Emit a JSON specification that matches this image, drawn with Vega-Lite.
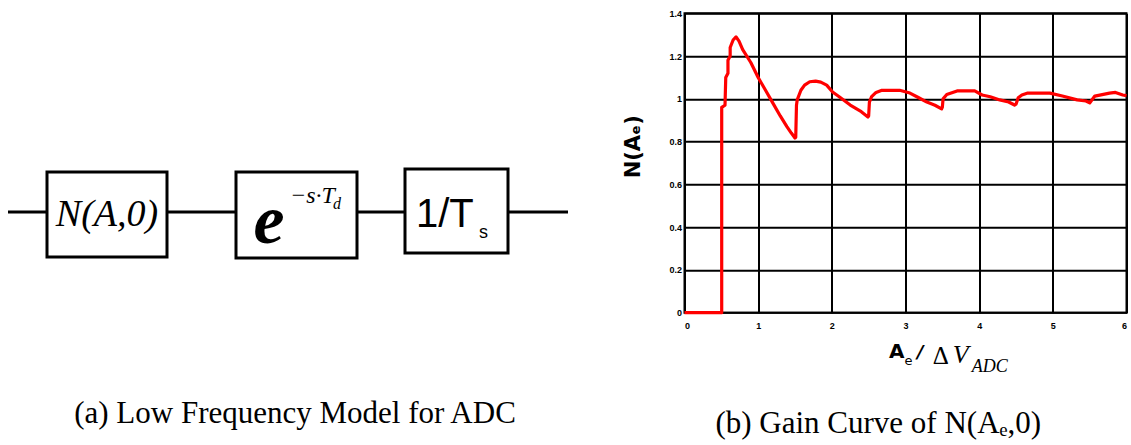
{
  "$schema": "https://vega.github.io/schema/vega-lite/v6.json",
  "width": 442,
  "height": 299.4,
  "autosize": {"type": "none"},
  "padding": {"left": 684.5, "top": 13.3, "right": 4.5, "bottom": 132.3},
  "background": "white",
  "config": {
    "view": {"stroke": "black", "strokeWidth": 2},
    "axis": {
      "grid": true,
      "gridColor": "black",
      "gridWidth": 2,
      "gridOpacity": 1,
      "domain": false,
      "ticks": false,
      "labelFont": "Liberation Sans",
      "labelFontWeight": "bold",
      "labelFontSize": 9,
      "labelColor": "black"
    }
  },
  "datasets": {
    "gain": [
      {"ratio": 0, "gain": 0},
      {"ratio": 0.505, "gain": 0},
      {"ratio": 0.505, "gain": 0.96},
      {"ratio": 0.55, "gain": 0.97},
      {"ratio": 0.56, "gain": 1.1},
      {"ratio": 0.59, "gain": 1.12},
      {"ratio": 0.59, "gain": 1.18},
      {"ratio": 0.62, "gain": 1.2},
      {"ratio": 0.62, "gain": 1.24},
      {"ratio": 0.66, "gain": 1.275},
      {"ratio": 0.7, "gain": 1.29},
      {"ratio": 0.74, "gain": 1.27},
      {"ratio": 0.79, "gain": 1.23},
      {"ratio": 0.9, "gain": 1.17},
      {"ratio": 1.0, "gain": 1.1},
      {"ratio": 1.1, "gain": 1.04},
      {"ratio": 1.2, "gain": 0.98},
      {"ratio": 1.3, "gain": 0.92},
      {"ratio": 1.39, "gain": 0.87},
      {"ratio": 1.45, "gain": 0.84},
      {"ratio": 1.5, "gain": 0.817},
      {"ratio": 1.51, "gain": 0.82},
      {"ratio": 1.52, "gain": 0.97},
      {"ratio": 1.53, "gain": 0.995},
      {"ratio": 1.58, "gain": 1.04},
      {"ratio": 1.63, "gain": 1.064},
      {"ratio": 1.7, "gain": 1.08},
      {"ratio": 1.78, "gain": 1.083},
      {"ratio": 1.85, "gain": 1.078},
      {"ratio": 1.93, "gain": 1.064},
      {"ratio": 2.01, "gain": 1.032},
      {"ratio": 2.1, "gain": 1.01},
      {"ratio": 2.25, "gain": 0.971},
      {"ratio": 2.4, "gain": 0.94},
      {"ratio": 2.49, "gain": 0.915},
      {"ratio": 2.5, "gain": 0.92},
      {"ratio": 2.51, "gain": 0.985},
      {"ratio": 2.54, "gain": 1.01},
      {"ratio": 2.6, "gain": 1.03},
      {"ratio": 2.68, "gain": 1.04},
      {"ratio": 2.92, "gain": 1.04},
      {"ratio": 3.06, "gain": 1.027},
      {"ratio": 3.18, "gain": 1.005},
      {"ratio": 3.29, "gain": 0.985},
      {"ratio": 3.4, "gain": 0.97},
      {"ratio": 3.49, "gain": 0.953},
      {"ratio": 3.5, "gain": 0.96},
      {"ratio": 3.51, "gain": 1.0},
      {"ratio": 3.56, "gain": 1.02},
      {"ratio": 3.7, "gain": 1.037},
      {"ratio": 3.94, "gain": 1.037},
      {"ratio": 4.04, "gain": 1.018},
      {"ratio": 4.15, "gain": 1.01},
      {"ratio": 4.28, "gain": 0.995},
      {"ratio": 4.4, "gain": 0.985},
      {"ratio": 4.48, "gain": 0.971},
      {"ratio": 4.5, "gain": 0.975},
      {"ratio": 4.53, "gain": 1.005},
      {"ratio": 4.58, "gain": 1.018},
      {"ratio": 4.66, "gain": 1.027},
      {"ratio": 4.96, "gain": 1.027},
      {"ratio": 5.13, "gain": 1.013},
      {"ratio": 5.33, "gain": 0.995},
      {"ratio": 5.45, "gain": 0.99},
      {"ratio": 5.5, "gain": 0.981},
      {"ratio": 5.52, "gain": 0.99},
      {"ratio": 5.57, "gain": 1.013},
      {"ratio": 5.77, "gain": 1.027},
      {"ratio": 5.85, "gain": 1.03},
      {"ratio": 5.95, "gain": 1.018},
      {"ratio": 6.0, "gain": 1.015}
    ],
    "blocks": [
      {"block": "N(A,0)", "x0": 4.7, "x1": 16.7, "y0": -4.5, "y1": 4.0},
      {"block": "delay", "x0": 23.6, "x1": 35.7, "y0": -4.6, "y1": 4.0},
      {"block": "hold", "x0": 40.5, "x1": 50.8, "y0": -4.1, "y1": 4.3}
    ],
    "wire": [{"x0": 0.8, "x1": 56.8, "y": 0}]
  },
  "layer": [
    {
      "layer": [
        {
          "data": {"name": "gain"},
          "mark": {"type": "line", "color": "#ff0000", "strokeWidth": 3.2, "strokeJoin": "round"},
          "encoding": {
            "x": {
              "field": "ratio", "type": "quantitative",
              "scale": {"domain": [0, 6], "nice": false, "zero": false},
              "axis": {"title": null, "values": [0, 1, 2, 3, 4, 5, 6], "format": "d", "labelPadding": 9}
            },
            "y": {
              "field": "gain", "type": "quantitative",
              "scale": {"domain": [0, 1.4], "nice": false, "zero": false},
              "axis": {
                "title": "N(Aₑ)",
                "values": [0, 0.2, 0.4, 0.6, 0.8, 1, 1.2, 1.4],
                "format": "~g",
                "labelPadding": 3,
                "titleFont": "DejaVu Sans",
                "titleFontWeight": "bold",
                "titleFontSize": 21,
                "titleColor": "black",
                "titlePadding": 25,
                "titleY": 133
              }
            },
            "order": {"value": null}
          }
        },
        {
          "data": {"values": [{"ratio": 2.88, "gain": -0.212, "t": "A"}]},
          "mark": {"type": "text", "font": "DejaVu Sans", "fontWeight": "bold", "fontSize": 20, "align": "center", "baseline": "alphabetic", "color": "black"},
          "encoding": {"x": {"field": "ratio", "type": "quantitative"}, "y": {"field": "gain", "type": "quantitative"}, "text": {"field": "t"}}
        },
        {
          "data": {"values": [{"ratio": 3.04, "gain": -0.245, "t": "e"}]},
          "mark": {"type": "text", "font": "DejaVu Sans", "fontSize": 13, "align": "center", "baseline": "alphabetic", "color": "black"},
          "encoding": {"x": {"field": "ratio", "type": "quantitative"}, "y": {"field": "gain", "type": "quantitative"}, "text": {"field": "t"}}
        },
        {
          "data": {"values": [{"ratio": 3.2, "gain": -0.212, "t": "/"}]},
          "mark": {"type": "text", "font": "DejaVu Sans", "fontWeight": "bold", "fontStyle": "italic", "fontSize": 18, "align": "center", "baseline": "alphabetic", "color": "black"},
          "encoding": {"x": {"field": "ratio", "type": "quantitative"}, "y": {"field": "gain", "type": "quantitative"}, "text": {"field": "t"}}
        },
        {
          "data": {"values": [{"ratio": 3.37, "gain": -0.24, "t": "Δ"}]},
          "mark": {"type": "text", "font": "Liberation Serif", "fontSize": 25, "align": "left", "baseline": "alphabetic", "color": "black"},
          "encoding": {"x": {"field": "ratio", "type": "quantitative"}, "y": {"field": "gain", "type": "quantitative"}, "text": {"field": "t"}}
        },
        {
          "data": {"values": [{"ratio": 3.64, "gain": -0.235, "t": "V"}]},
          "mark": {"type": "text", "font": "Liberation Serif", "fontStyle": "italic", "fontSize": 26, "align": "left", "baseline": "alphabetic", "color": "black"},
          "encoding": {"x": {"field": "ratio", "type": "quantitative"}, "y": {"field": "gain", "type": "quantitative"}, "text": {"field": "t"}}
        },
        {
          "data": {"values": [{"ratio": 3.9, "gain": -0.278, "t": "ADC"}]},
          "mark": {"type": "text", "font": "Liberation Serif", "fontStyle": "italic", "fontSize": 18, "align": "left", "baseline": "alphabetic", "color": "black"},
          "encoding": {"x": {"field": "ratio", "type": "quantitative"}, "y": {"field": "gain", "type": "quantitative"}, "text": {"field": "t"}}
        },
        {
          "data": {"values": [{"ratio": 2.63, "gain": -0.562, "t": "(b) Gain Curve of N(Aₑ,0)"}]},
          "mark": {"type": "text", "font": "Liberation Serif", "fontSize": 31, "align": "center", "baseline": "alphabetic", "color": "black"},
          "encoding": {"x": {"field": "ratio", "type": "quantitative"}, "y": {"field": "gain", "type": "quantitative"}, "text": {"field": "t"}}
        }
      ]
    },
    {
      "layer": [
        {
          "data": {"name": "wire"},
          "mark": {"type": "rule", "color": "black", "strokeWidth": 3},
          "encoding": {
            "x": {"field": "x0", "type": "quantitative", "scale": {"domain": [68.45, 112.65], "nice": false, "zero": false}, "axis": null},
            "x2": {"field": "x1"},
            "y": {"field": "y", "type": "quantitative", "scale": {"domain": [-10.07, 19.87], "nice": false, "zero": false}, "axis": null}
          }
        },
        {
          "data": {"name": "blocks"},
          "mark": {"type": "rect", "fill": "white", "stroke": "black", "strokeWidth": 3},
          "encoding": {
            "x": {"field": "x0", "type": "quantitative"},
            "x2": {"field": "x1"},
            "y": {"field": "y0", "type": "quantitative"},
            "y2": {"field": "y1"}
          }
        },
        {
          "data": {"values": [{"x0": 10.7, "y0": -0.3, "t": "N(A,0)"}]},
          "mark": {"type": "text", "font": "Liberation Serif", "fontStyle": "italic", "fontSize": 38, "align": "center", "baseline": "middle", "color": "black"},
          "encoding": {"x": {"field": "x0", "type": "quantitative"}, "y": {"field": "y0", "type": "quantitative"}, "text": {"field": "t"}}
        },
        {
          "data": {"values": [{"x0": 26.9, "y0": -3.1, "t": "e"}]},
          "mark": {"type": "text", "font": "Liberation Serif", "fontStyle": "italic", "fontWeight": "bold", "fontSize": 70, "align": "center", "baseline": "alphabetic", "color": "black"},
          "encoding": {"x": {"field": "x0", "type": "quantitative"}, "y": {"field": "y0", "type": "quantitative"}, "text": {"field": "t"}}
        },
        {
          "data": {"values": [{"x0": 29.0, "y0": 0.9, "t": "−s·T"}]},
          "mark": {"type": "text", "font": "Liberation Serif", "fontStyle": "italic", "fontSize": 24, "align": "left", "baseline": "alphabetic", "color": "black"},
          "encoding": {"x": {"field": "x0", "type": "quantitative"}, "y": {"field": "y0", "type": "quantitative"}, "text": {"field": "t"}}
        },
        {
          "data": {"values": [{"x0": 33.3, "y0": 0.3, "t": "d"}]},
          "mark": {"type": "text", "font": "Liberation Serif", "fontStyle": "italic", "fontSize": 16, "align": "left", "baseline": "alphabetic", "color": "black"},
          "encoding": {"x": {"field": "x0", "type": "quantitative"}, "y": {"field": "y0", "type": "quantitative"}, "text": {"field": "t"}}
        },
        {
          "data": {"values": [{"x0": 41.6, "y0": -1.5, "t": "1/T"}]},
          "mark": {"type": "text", "font": "Liberation Sans", "fontSize": 40, "align": "left", "baseline": "alphabetic", "color": "black"},
          "encoding": {"x": {"field": "x0", "type": "quantitative"}, "y": {"field": "y0", "type": "quantitative"}, "text": {"field": "t"}}
        },
        {
          "data": {"values": [{"x0": 47.9, "y0": -2.6, "t": "s"}]},
          "mark": {"type": "text", "font": "Liberation Sans", "fontSize": 18, "align": "left", "baseline": "alphabetic", "color": "black"},
          "encoding": {"x": {"field": "x0", "type": "quantitative"}, "y": {"field": "y0", "type": "quantitative"}, "text": {"field": "t"}}
        },
        {
          "data": {"values": [{"x0": 29.5, "y0": -21.1, "t": "(a) Low Frequency Model for ADC"}]},
          "mark": {"type": "text", "font": "Liberation Serif", "fontSize": 31, "align": "center", "baseline": "alphabetic", "color": "black"},
          "encoding": {"x": {"field": "x0", "type": "quantitative"}, "y": {"field": "y0", "type": "quantitative"}, "text": {"field": "t"}}
        }
      ]
    }
  ],
  "resolve": {"scale": {"x": "independent", "y": "independent"}}
}
